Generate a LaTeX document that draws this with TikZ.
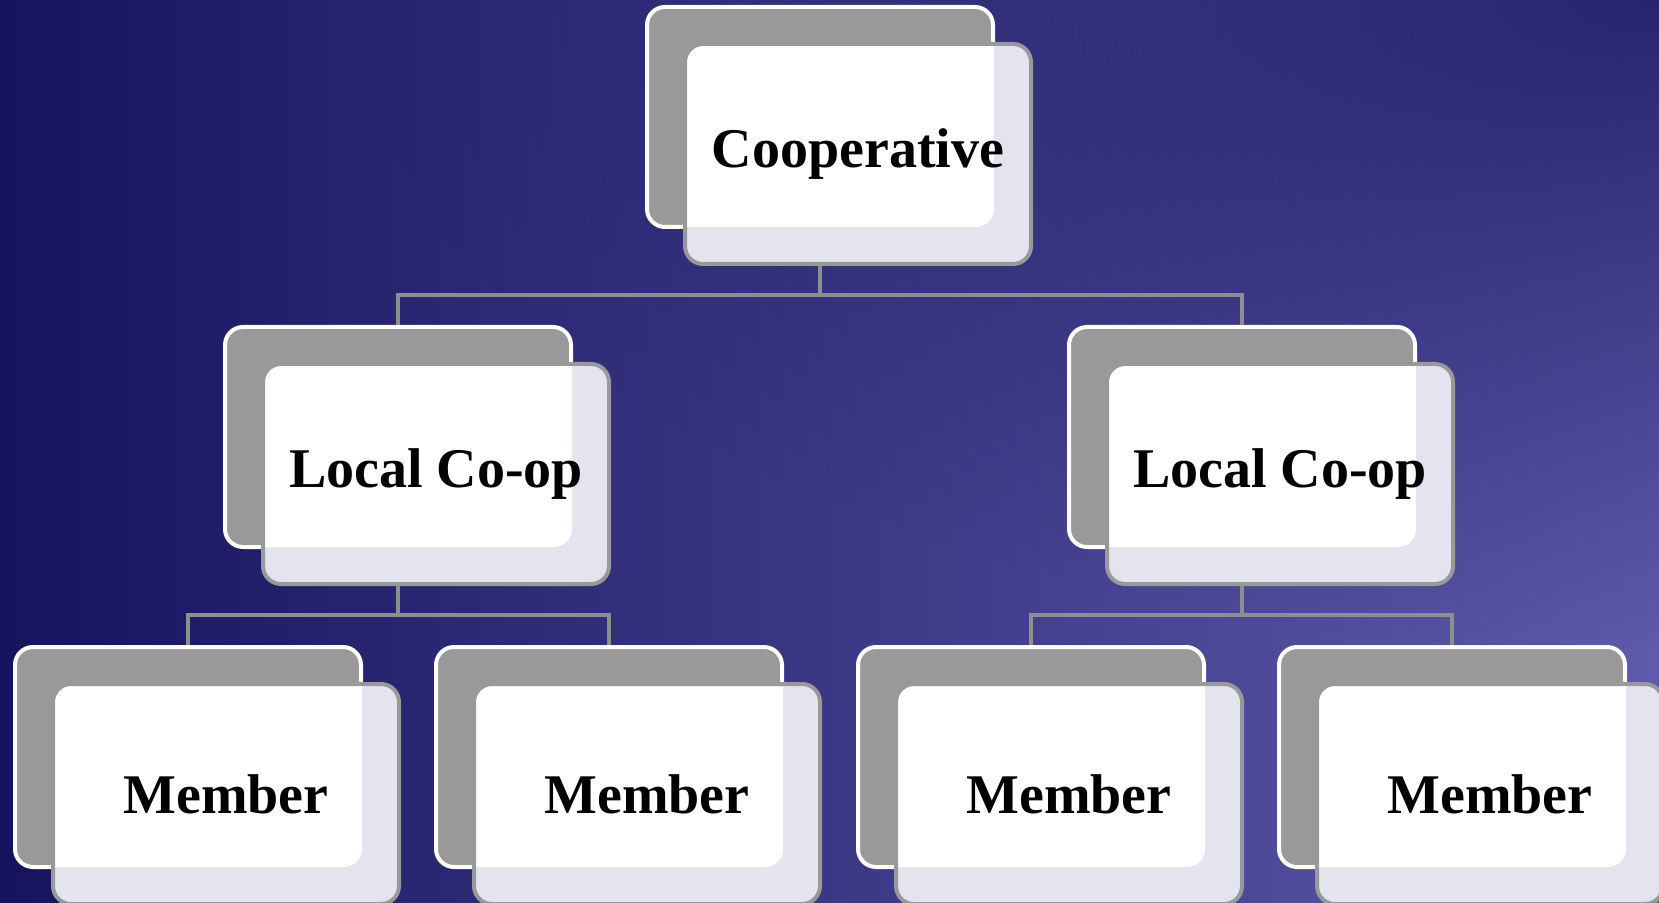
\documentclass[tikz,border=0pt]{standalone}
\usepackage{fontspec}
\setmainfont{Liberation Serif}
\usepackage{tikz}
\usetikzlibrary{calc,math,fadings}
\definecolor{bgleft}{HTML}{17145E}
\definecolor{bgmid}{HTML}{433F85}
\definecolor{bgright}{HTML}{5E5BAC}
\definecolor{bgdark}{HTML}{1A1860}
\definecolor{boxgray}{HTML}{999999}
\definecolor{boxlight}{HTML}{E4E4EE}
\definecolor{linkgray}{HTML}{8E8E8E}
\tikzfading[name=cornerfade, inner color=transparent!20, outer color=transparent!100]

\begin{document}
\begin{tikzpicture}
[x=0.5pt,y=-0.5pt,
back/.style={draw=white,fill=boxgray,line width=2pt,rounded corners=9pt,minimum width=173pt,minimum height=110pt},
front/.style={draw=boxgray,fill=boxlight,line width=2pt,rounded corners=9pt,minimum width=173pt,minimum height=110pt,
  font=\bfseries\fontsize{28}{32}\selectfont,
  path picture={\fill[white,rounded corners=9pt] ([xshift=-20pt,yshift=18.5pt]path picture bounding box.south west) rectangle ([xshift=-18.5pt,yshift=20pt]path picture bounding box.north east);}},
link/.style={draw=linkgray,line width=2pt},]

%Offset of the front card
\tikzmath{\dx = 38; \dy = 37; }
%
%Background
\useasboundingbox (0,0) rectangle (1659,903);
\shade[left color=bgleft,middle color=bgmid,right color=bgright] (0,0) rectangle (1659,903);
\begin{scope}
\clip (0,0) rectangle (1659,903);
\fill[bgdark,path fading=cornerfade] (1659,0) ellipse [x radius=1300, y radius=650];
\end{scope}

%Cards
\foreach \n/\x/\y/\t in {C/820/117/Cooperative, L/398/437/{Local Co-op}, R/1242/437/{Local Co-op},
  M1/188/757/Member, M2/609/757/Member, M3/1031/757/Member, M4/1452/757/Member}
{
\node[back] (\n-back) at (\x,\y) {};
\node[front] (\n-front) at (\x+\dx,\y+\dy) {\t};
}

%Connectors
\coordinate (bus1) at (0,295);
\coordinate (bus2) at (0,615);
\draw[link] (C-back |- C-front.south) -- (C-back |- bus1) -| (L-back.north);
\draw[link] (C-back |- bus1) -| (R-back.north);
\draw[link] (L-back |- L-front.south) -- (L-back |- bus2) -| (M1-back.north);
\draw[link] (L-back |- bus2) -| (M2-back.north);
\draw[link] (R-back |- R-front.south) -- (R-back |- bus2) -| (M3-back.north);
\draw[link] (R-back |- bus2) -| (M4-back.north);

\end{tikzpicture}
\end{document}
